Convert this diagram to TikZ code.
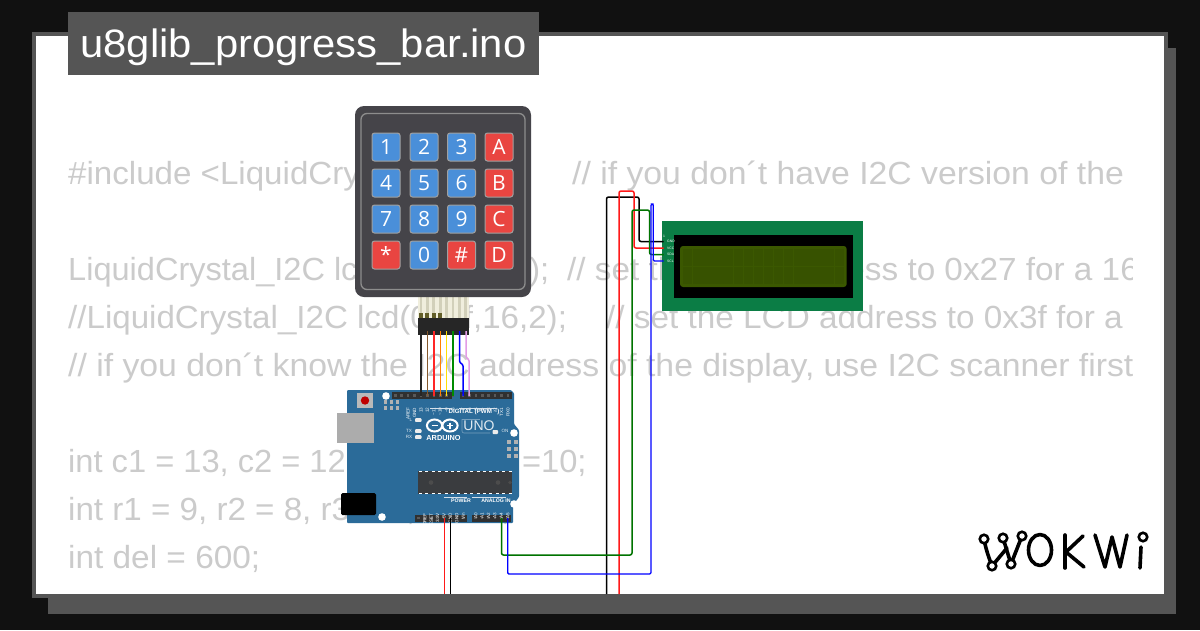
\documentclass[tikz,border=0pt]{standalone}
\usepackage{graphicx}
\usepackage{fontspec}
\setmainfont{Liberation Sans}
\newfontfamily\keyfont{Open Sans}
\usetikzlibrary{calc}
\newcommand{\hstretch}[2]{\scalebox{#1}[1]{#2}}
\definecolor{pagebg}{HTML}{111111}
\definecolor{framegray}{HTML}{555555}
\definecolor{codegray}{HTML}{CBCBCB}
\definecolor{padbody}{HTML}{454449}
\definecolor{keyblue}{HTML}{4A8FD9}
\definecolor{keyred}{HTML}{E94541}
\definecolor{keyedge}{HTML}{A0A0A0}
\definecolor{unoblue}{HTML}{2B6B99}
\definecolor{hdrdark}{HTML}{303030}
\definecolor{chipgray}{HTML}{3A3C3F}
\definecolor{lcdgreen}{HTML}{0B7D45}
\definecolor{lcdscreen}{HTML}{3B5800}
\definecolor{lcdcell}{HTML}{375200}
\definecolor{ribbon}{HTML}{E9E7CF}
\definecolor{plumwire}{HTML}{E39CE6}
\tikzset{
  x=1pt,y=-1pt,
  code/.style={anchor=base west,inner sep=0pt,text=codegray,font=\fontsize{32}{32}\selectfont},
  padkey/.style={draw=keyedge,line width=1pt,rounded corners=2.5pt,minimum size=28pt,inner sep=0pt,text=white,
     font=\keyfont\fontsize{21}{21}\selectfont},
  wire/.style={line width=1.5pt,rounded corners=2pt},
  tinylabel/.style={inner sep=0pt,text=white,font=\fontsize{4.6}{4.6}\selectfont},
  logostroke/.style={line width=3.6pt,line cap=round,line join=round,black},
  logodot/.style={circle,draw=black,line width=2.6pt,fill=white,minimum size=8.5pt,inner sep=0pt},
}
\begin{document}
\begin{tikzpicture}
\useasboundingbox (0,0) rectangle (1200,630);
% page and frame
\fill[pagebg] (0,0) rectangle (1200,630);
\fill[framegray] (48,48) rectangle (1176,614);
\fill[framegray] (32,32) rectangle (1168,598);
\fill[white] (36,36) rectangle (1164,594);

% code behind the diagram
\begin{scope}
\clip (36,36) rectangle (1132,594);
\node[code] (c1a) at (68,184) {\hstretch{1.035}{\#include <LiquidCrystal\_I2C.h>}};
\node[code] (c1b) at (572,184) {\hstretch{1.055}{// if you don´t have I2C version of the}};
\node[code] (c2a) at (68,280) {\hstretch{1.017}{LiquidCrystal\_I2C lcd(0x27,16,2);}};
\node[code] (c2b) at (567,280) {\hstretch{1.04}{// set the LCD address to 0x27 for a 16}};
\node[code] (c3a) at (68,328) {\hstretch{1.035}{//LiquidCrystal\_I2C lcd(0x3f,16,2);}};
\node[code] (c3b) at (606,328) {\hstretch{1.041}{// set the LCD address to 0x3f for a 16}};
\node[code] (c4) at (68,376) {\hstretch{1.055}{// if you don´t know the I2C address of the display, use I2C scanner first}};
\node[code] (c5) at (68,472) {\hstretch{1.02}{int c1 = 13, c2 = 12, c3 =11, c4 =10;}};
\node[code] (c6) at (68,520) {\hstretch{1.036}{int r1 = 9, r2 = 8, r3 = 7, r4 =6;}};
\node[code] (c7) at (68,568) {\hstretch{1.043}{int del = 600;}};
\end{scope}

% keypad
\fill[ribbon!70!white] (418,297) rectangle (469,320);
\foreach \i in {0,...,7}{\fill[ribbon!90!black] ({421+6.4*\i-1.4},297) rectangle ({421+6.4*\i+1.4},320);}
\fill[padbody,rounded corners=9pt] (355,106) rectangle (531,297);
\draw[keyedge!120,line width=1.3pt,rounded corners=6pt] (361,113.5) rectangle (525,289.5);
\foreach \lab/\col/\cx/\cy/\nm in {1/keyblue/386/147/ka,2/keyblue/424/147/kb,3/keyblue/461.5/147/kc,A/keyred/499/147/kd,
  4/keyblue/386/183/ke,5/keyblue/424/183/kf,6/keyblue/461.5/183/kg,B/keyred/499/183/kh,
  7/keyblue/386/219/ki,8/keyblue/424/219/kj,9/keyblue/461.5/219/kk,C/keyred/499/219/kl,
  */keyred/386/255/km,0/keyblue/424/255/kn,\#/keyred/461.5/255/ko,D/keyred/499/255/kp}{
  \node[padkey,fill=\col] (\nm) at (\cx,\cy) {\lab};
}
% keypad connector
\fill[black!85] (418,318) rectangle (468.5,335);
\foreach \i in {0,...,3}{\fill[olive!60!black] ({421+6.4*\i-2},313) rectangle ({421+6.4*\i+2},318);}

% Arduino board
\fill[unoblue,rounded corners=1pt] (347,390) -- (511,390) -- (514,393) -- (514,424) -- (519,430) -- (519,497) -- (513,505) -- (513,523) -- (347,523) -- cycle;
% USB and jack
\fill[gray!65] (337,413) rectangle (374,443);
\fill[black,rounded corners=1.5pt] (341,493) rectangle (376,515);
% mounting holes
\foreach \hx/\hy in {386/396,514/433,514/504,382/517}{\fill[white] (\hx,\hy) circle (3.8);}
% reset
\fill[gray!55] (357,393) rectangle (373,408);
\fill[red!75!black] (365,400.5) circle (4.2);
% pin blocks
\foreach \hx in {385.5,391.5,397.5}{\foreach \hy in {402,408}{\fill[gray!60] (\hx-1.7,\hy-1.7) rectangle (\hx+1.7,\hy+1.7);}}
\foreach \hx in {509,516}{\foreach \hy in {442,449,455.5}{\fill[gray!60] (\hx-2,\hy-2) rectangle (\hx+2,\hy+2);}}
% headers
\fill[hdrdark] (392,392) rectangle (452,398.5);
\fill[hdrdark] (459.5,392) rectangle (511.5,398.5);
\fill[hdrdark] (415,514.5) rectangle (467,521.5);
\fill[hdrdark] (472.3,514.5) rectangle (511,521.5);
\foreach \i in {0,...,9}{\fill[gray!70!black] ({395.3+6.42*\i-1.3},394) rectangle ({395.3+6.42*\i+1.3},396.6);}
\foreach \i in {0,...,7}{\fill[gray!70!black] ({463+6.42*\i-1.3},394) rectangle ({463+6.42*\i+1.3},396.6);}
\foreach \i in {0,...,7}{\fill[gray!70!black] ({418.4+6.4*\i-1.3},516.7) rectangle ({418.4+6.4*\i+1.3},519.3);}
\foreach \i in {0,...,5}{\fill[gray!70!black] ({475.7+6.4*\i-1.3},516.7) rectangle ({475.7+6.4*\i+1.3},519.3);}
% chip
\fill[chipgray] (418,471) rectangle (512,494);
\draw[white,line width=.8pt,dash pattern=on 3pt off 3.4pt] (419,471.4) -- (512,471.4) (419,493.6) -- (512,493.6);
\fill[black!70] (431,482.5) circle (2.3) (498,482.5) circle (2.3) (510,482.5) circle (1.8);
% digital labels
\foreach \lab/\lx in {AREF/408,GND/414.5,13/421,12/427.3,\textasciitilde11/433.7,\textasciitilde10/440,\textasciitilde9/446.5,8/453,7/463,\textasciitilde6/469.5,\textasciitilde5/476,4/482,\textasciitilde3/488.5,2/495,TX1/501.5,RX0/508}{
  \node[tinylabel,rotate=90,anchor=east] at (\lx,407.5) {\lab};
}
\node[tinylabel,font=\bfseries\fontsize{6.2}{6.2}\selectfont] (digi) at (474,412) {DIGITAL (PWM \textasciitilde)};
\draw[white!80!unoblue,line width=.6pt] (430,408.3) -- (452,408.3) (459,408.3) -- (497,408.3);
% LEDs
\foreach \lab/\ly/\lx in {L/420/411,TX/431/409,RX/437/409}{
  \node[tinylabel,text=white!85!unoblue] at (\lx,\ly) {\lab};
  \fill[white!85!gray,rounded corners=.8pt] (415,\ly-1.8) rectangle (421.5,\ly+1.8);
}
\fill[white!85!gray,rounded corners=.8pt] (492.5,430) rectangle (498,434);
\node[tinylabel,text=white!85!unoblue] at (505,431) {ON};
% logo
\draw[white,line width=2pt] (434.5,425.5) ellipse (7.6 and 6) (450,425.5) ellipse (7.6 and 6);
\draw[white,line width=1.1pt] (431.5,425.5) -- (437.5,425.5) (447,425.5) -- (453,425.5) (450,422.5) -- (450,428.5);
\node[tinylabel,font=\bfseries\fontsize{7.3}{7.3}\selectfont] (ardu) at (443.5,438) {ARDUINO};
\node[inner sep=0pt,text=white!85!unoblue,font=\fontsize{14}{14}\selectfont] (uno) at (479,426) {UNO};
\draw[white!35!unoblue,line width=.6pt,rounded corners=2pt] (462,419) -- (462,433) -- (490,433);
\draw[white!35!unoblue,line width=.6pt] (462,419) -- (480,419);
% power labels
\foreach \lab/\lx in {IOREF/424.8,RESET/431.2,3.3V/437.6,5V/444,GND/450.4,GND/456.8,Vin/463.2,A0/475.7,A1/482.1,A2/488.5,A3/494.9,A4/501.3,A5/507.7}{
  \node[tinylabel,rotate=90,anchor=east] at (\lx,513) {\lab};
}
\node[tinylabel,font=\bfseries\fontsize{5.2}{5.2}\selectfont] (powr) at (461,500.5) {POWER};
\node[tinylabel,font=\bfseries\fontsize{5.2}{5.2}\selectfont] (anlg) at (496,500.5) {ANALOG IN};
\draw[white!80!unoblue,line width=.5pt] (444,497.5) -- (467,497.5) (472,497.5) -- (506,497.5);

% LCD
\fill[lcdgreen] (661.5,221) rectangle (863,311);
\fill[black] (673.5,235) rectangle (853,298);
\fill[lcdscreen,rounded corners=3pt] (680,246) rectangle (846.7,287);
\foreach \i in {0,...,15}{\foreach \j in {0,1}{
  \fill[lcdcell] ({683+10.1*\i},{249+18*\j}) rectangle ({683+10.1*\i+9.4},{249+18*\j+17});}}
\foreach \lab/\ly in {GND/241.5,VCC/248,SDA/254.5,SCL/261}{
  \node[tinylabel,anchor=west,font=\fontsize{3.4}{3.4}\selectfont] at (667,\ly) {\lab};
}
\node[tinylabel,font=\fontsize{3.4}{3.4}\selectfont] (one) at (664,236.5) {1};

% connection points
\coordinate (kp1) at (421,331); \coordinate (kp2) at (427.5,331); \coordinate (kp3) at (434,331); \coordinate (kp4) at (440.3,331);
\coordinate (kp5) at (446.6,331); \coordinate (kp6) at (453,331); \coordinate (kp7) at (459.5,331); \coordinate (kp8) at (466,331);
\coordinate (d13) at (421,396); \coordinate (d12) at (427.5,396); \coordinate (d11) at (434,396); \coordinate (d10) at (440.3,396);
\coordinate (d9) at (446.6,396); \coordinate (d8) at (453,396); \coordinate (d7) at (463,396); \coordinate (d6) at (469,396);
\coordinate (u5v) at (444.3,518); \coordinate (ugnd) at (450.4,518); \coordinate (ua4) at (501.5,518); \coordinate (ua5) at (507.7,518);
\coordinate (lgnd) at (663.5,241.5); \coordinate (lvcc) at (663.5,248); \coordinate (lsda) at (663.5,254.5); \coordinate (lscl) at (663.5,261);
\coordinate (off1) at (444.3,594); \coordinate (off2) at (450.4,594); \coordinate (off3) at (606.5,594); \coordinate (off4) at (619,594);

% keypad wires
\draw[wire,black!85] (kp1) -- (d13);
\draw[wire,brown!70!black] (kp2) -- (d12);
\draw[wire,red!85!white] (kp3) -- (d11);
\draw[wire,orange] (kp4) -- (d10);
\draw[wire,yellow!85!orange] (kp5) -- (d9);
\draw[wire,green!55!black] (kp6) -- (d8);
\draw[wire,blue,rounded corners=1pt] (kp7) -- (459.5,362) -- (463,365) -- (d7);
\draw[wire,plumwire,rounded corners=1pt] (kp8) -- (466,357) -- (469,360) -- (d6);

% LCD wires
\draw[wire,black] (off3) -- (606.5,197) -- (639,197) -- (639,241.5) -- (lgnd);
\draw[wire,red!90!white] (off4) -- (619,191) -- (634,191) -- (634,248) -- (lvcc);
\draw[wire,green!45!black] (ua4) -- (501.5,555) -- (632,555) -- (632,210) -- (649.5,210) -- (649.5,254.5) -- (lsda);
\draw[wire,blue,line width=1.3pt,rounded corners=1.2pt] (ua5) -- (507.7,574) -- (651,574) -- (651,204) -- (653.3,204) -- (653.3,261) -- (lscl);
\draw[wire,red!90!white] (u5v) -- (off1);
\draw[wire,black] (ugnd) -- (off2);

% title
\fill[framegray] (68,12) rectangle (539,75);
\node[anchor=base,inner sep=0pt,text=white,font=\fontsize{39.6}{39.6}\selectfont] (title) at (303.5,57) {\hstretch{1.055}{u8glib\_progress\_bar.ino}};

% wordmark
\draw[logostroke] (984,539) .. controls (986,550) and (989,558) .. (992,566);
\draw[logostroke] (992,566) -- (1007,548);
\draw[logostroke] (1003,538) -- (1011,564);
\draw[logostroke] (1011,564) -- (1022,536);
\draw[logostroke] (1040,550) ellipse (11.5 and 15.5);
\draw[logostroke] (1065,535) -- (1065,568);
\draw[logostroke] (1083,536) -- (1066,552) -- (1084,567);
\draw[logostroke] (1095,535) -- (1105,567) -- (1112,537) -- (1120,567) -- (1127,535);
\draw[logostroke] (1141,547) -- (1140,568);
\foreach \dx/\dy/\nm in {984/539/wa,1003/538/wb,1022/536/wc,992/566/wd,1011/564/we,1143/537/wf}{
  \node[logodot] (\nm) at (\dx,\dy) {};
}
\end{tikzpicture}
\end{document}
